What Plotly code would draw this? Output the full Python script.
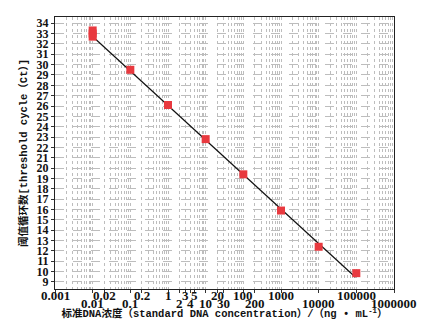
import numpy as np
import plotly.graph_objects as go

# Data
conc = [0.01, 0.01, 0.01, 0.1, 1, 10, 100, 1000, 10000, 100000]
ct = [33.3, 33.0, 32.7, 29.5, 26.1, 22.8, 19.4, 15.9, 12.4, 9.85]

fit_x = [0.012, 95000]
fit_y = [32.45, 9.45]

# x tick labels (staggered in two rows)
xtick_vals = [0.001, 0.01, 0.02, 0.1, 0.2, 1, 2, 3, 4, 5, 10, 20, 30, 100, 200,
              1000, 10000, 100000, 1000000]
xtick_text = ["0.001", "0.01", "0.02", "0.1", "0.2", "1", "2", "3", "4", "5", "10",
              "20", "30", "100", "200", "1000", "10000", "100000", "1000000"]
xtick_row = [0, 1, 0, 1, 0, 0, 1, 0, 1, 0, 1, 0, 1, 0, 1, 0, 1, 0, 1]

ytick_vals = list(range(9, 35))

tick_font = dict(family="Liberation Serif, Noto Sans CJK SC", size=12, color="#111")
title_font = dict(family="Liberation Mono, Noto Sans CJK SC", size=10.5, color="#111")

fig = go.Figure()
fig.add_trace(go.Scatter(x=fit_x, y=fit_y, mode="lines",
                         line=dict(color="#111", width=1.2), showlegend=False))
fig.add_trace(go.Scatter(x=conc, y=ct, mode="markers",
                         marker=dict(symbol="square", size=8, color="#e8393f",
                                     line=dict(width=0)),
                         showlegend=False))

for v, t, r in zip(xtick_vals, xtick_text, xtick_row):
    fig.add_annotation(x=np.log10(v), y=0, xref="x", yref="paper",
                       text="<b>" + t + "</b>", showarrow=False,
                       xanchor="center", yanchor="top", borderpad=0,
                       yshift=2 if r == 0 else -6,
                       font=dict(family="Liberation Serif", size=13, color="#111"))

fig.update_xaxes(type="log", range=[-3, 6], automargin=False,
                 tickmode="array", tickvals=xtick_vals,
                 ticktext=[" " for _ in xtick_vals],
                 ticks="outside", ticklen=3, tickcolor="#333",
                 showgrid=True, gridcolor="#bdbdbd", griddash="dot", gridwidth=1,
                 minor=dict(dtick="D1", showgrid=True, gridcolor="#bdbdbd",
                            griddash="dot", gridwidth=1, ticks=""),
                 showline=True, linecolor="#222", linewidth=1.2, mirror=True,
                 zeroline=False,
                 title=dict(text="<b>标准DNA浓度（standard DNA concentration）/（ng • mL<sup>-1</sup>）</b>",
                            font=title_font, standoff=6))

fig.update_yaxes(range=[8.32, 34.6], automargin=False,
                 tickmode="array", tickvals=ytick_vals,
                 ticktext=["<b>%d</b>" % v for v in ytick_vals],
                 tickfont=tick_font, ticks="outside", ticklen=3, tickcolor="#333",
                 showgrid=True, gridcolor="#bdbdbd", griddash="dash", gridwidth=1,
                 showline=True, linecolor="#222", linewidth=1.2, mirror=True,
                 zeroline=False,
                 title=dict(text="<b>阈值循环数[threshold cycle（Ct）]</b>",
                            font=title_font, standoff=6))

fig.update_layout(width=428, height=325,
                  margin=dict(l=47, r=42, t=9, b=44),
                  plot_bgcolor="white", paper_bgcolor="white")

fig.write_html("out.html")
